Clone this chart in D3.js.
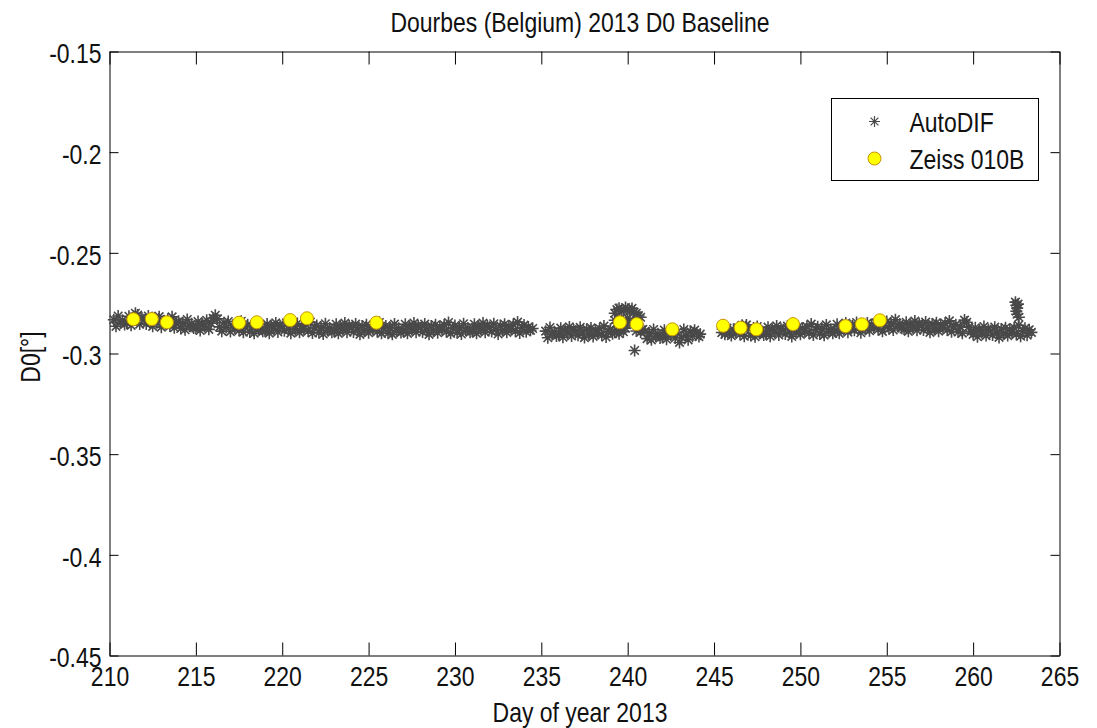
<!DOCTYPE html>
<html>
<head>
  <meta charset="utf-8">
  <title>Dourbes (Belgium) 2013 D0 Baseline</title>
  <style>
    body { margin: 0; background: white; }
    svg text { font-family: "Liberation Sans", Arial, sans-serif; fill: #111; }
    .axis text { font-size: 28px; }
    .axis path, .axis line { stroke: #000; stroke-width: 1; }
  </style>
  <script src="https://d3js.org/d3.v7.min.js"></script>
</head>
<body>
  <div id="chart"></div>
  <script>
    // AutoDIF absolute measurements (day of year, D0 in degrees)
    const autoDays = [
      210.25,210.375,210.5,210.625,210.75,210.875,
      211,211.125,211.25,211.375,211.5,211.625,211.75,211.875,
      212,212.125,212.25,212.375,212.5,212.625,212.75,212.875,
      213,213.125,213.25,213.375,213.5,213.625,213.75,213.875,
      214,214.125,214.25,214.375,214.5,214.625,214.75,214.875,
      215,215.125,215.25,215.375,215.5,215.625,215.75,215.875,
      216,216.125,216.25,216.375,216.5,216.625,216.75,216.875,
      217,217.125,217.25,217.375,217.5,217.625,217.75,217.875,
      218,218.125,218.25,218.375,218.5,218.625,218.75,218.875,
      219,219.125,219.25,219.375,219.5,219.625,219.75,219.875,
      220,220.125,220.25,220.375,220.5,220.625,220.75,220.875,
      221,221.125,221.25,221.375,221.5,221.625,221.75,221.875,
      222,222.125,222.25,222.375,222.5,222.625,222.75,222.875,
      223,223.125,223.25,223.375,223.5,223.625,223.75,223.875,
      224,224.125,224.25,224.375,224.5,224.625,224.75,224.875,
      225,225.125,225.25,225.375,225.5,225.625,225.75,225.875,
      226,226.125,226.25,226.375,226.5,226.625,226.75,226.875,
      227,227.125,227.25,227.375,227.5,227.625,227.75,227.875,
      228,228.125,228.25,228.375,228.5,228.625,228.75,228.875,
      229,229.125,229.25,229.375,229.5,229.625,229.75,229.875,
      230,230.125,230.25,230.375,230.5,230.625,230.75,230.875,
      231,231.125,231.25,231.375,231.5,231.625,231.75,231.875,
      232,232.125,232.25,232.375,232.5,232.625,232.75,232.875,
      233,233.125,233.25,233.375,233.5,233.625,233.75,233.875,
      234,234.125,234.25,234.375,234.5,
      235.25,235.375,235.5,235.625,235.75,235.875,
      236,236.125,236.25,236.375,236.5,236.625,236.75,236.875,
      237,237.125,237.25,237.375,237.5,237.625,237.75,237.875,
      238,238.125,238.25,238.375,238.5,238.625,238.75,238.875,
      239,239.125,
      239.25,239.375,239.5,239.625,239.75,239.875,
      239.25,239.375,239.5,239.625,239.75,239.875,
      239.25,239.375,239.5,239.625,239.75,239.875,
      240,240.125,240.25,240.375,240.5,240.625,240.75,
      240,240.125,240.5,240.625,240.75,240.875,
      240.4,
      241,241.125,241.25,241.375,241.5,241.625,241.75,241.875,
      242,242.125,242.25,242.375,242.5,242.625,242.75,242.875,
      243,243.125,243.25,243.375,243.5,243.625,243.75,243.875,
      244,244.125,244.2,
      245.45,245.5,245.625,245.75,245.875,
      246,246.125,246.25,246.375,246.5,246.625,246.75,246.875,
      247,247.125,247.25,247.375,247.5,247.625,247.75,247.875,
      248,248.125,248.25,248.375,248.5,248.625,248.75,248.875,
      249,249.125,249.25,249.375,249.5,249.625,249.75,249.875,
      250,250.125,250.25,250.375,250.5,250.625,250.75,250.875,
      251,251.125,251.25,251.375,251.5,251.625,251.75,251.875,
      252,252.125,252.25,252.375,252.5,252.625,252.75,252.875,
      253,253.125,253.25,253.375,253.5,253.625,253.75,253.875,
      254,254.125,254.25,254.375,254.5,254.625,254.75,254.875,
      255,255.125,255.25,255.375,255.5,255.625,255.75,255.875,
      256,256.125,256.25,256.375,256.5,256.625,256.75,256.875,
      257,257.125,257.25,257.375,257.5,257.625,257.75,257.875,
      258,258.125,258.25,258.375,258.5,258.625,258.75,258.875,
      259,259.125,259.25,259.375,259.5,259.625,259.75,259.875,
      260,260.125,260.25,260.375,260.5,260.625,260.75,260.875,
      261,261.125,261.25,261.375,261.5,261.625,261.75,261.875,
      262,262.125,262.25,262.375,262.5,262.625,262.75,262.875,
      263,263.125,263.25,263.375,
      262.45,262.5,262.55,262.6,262.5,262.55,262.65
    ];
    const autoD0 = [
      -0.2832,-0.2865,-0.2814,-0.2847,-0.2835,-0.2856,
      -0.2848,-0.2815,-0.2860,-0.2827,-0.2800,-0.2809,-0.2854,-0.2824,
      -0.2832,-0.2853,-0.2814,-0.2844,-0.2865,-0.2823,-0.2847,-0.2817,
      -0.2869,-0.2839,-0.2851,-0.2830,-0.2863,-0.2818,-0.2872,-0.2845,
      -0.2840,-0.2876,-0.2849,-0.2882,-0.2831,-0.2864,-0.2852,-0.2873,
      -0.2874,-0.2841,-0.2886,-0.2853,-0.2865,-0.2835,-0.2880,-0.2850,
      -0.2825,-0.2810,-0.2828,-0.2868,-0.2889,-0.2847,-0.2871,-0.2841,
      -0.2891,-0.2861,-0.2873,-0.2852,-0.2885,-0.2840,-0.2894,-0.2867,
      -0.2857,-0.2893,-0.2866,-0.2899,-0.2848,-0.2881,-0.2869,-0.2890,
      -0.2887,-0.2854,-0.2899,-0.2866,-0.2878,-0.2848,-0.2893,-0.2863,
      -0.2866,-0.2887,-0.2848,-0.2878,-0.2899,-0.2857,-0.2881,-0.2851,
      -0.2895,-0.2865,-0.2877,-0.2856,-0.2889,-0.2844,-0.2898,-0.2871,
      -0.2861,-0.2897,-0.2870,-0.2903,-0.2852,-0.2885,-0.2873,-0.2894,
      -0.2888,-0.2855,-0.2900,-0.2867,-0.2879,-0.2849,-0.2894,-0.2864,
      -0.2872,-0.2893,-0.2854,-0.2884,-0.2905,-0.2863,-0.2887,-0.2857,
      -0.2897,-0.2867,-0.2879,-0.2858,-0.2891,-0.2846,-0.2900,-0.2873,
      -0.2863,-0.2899,-0.2872,-0.2905,-0.2854,-0.2887,-0.2875,-0.2896,
      -0.2888,-0.2855,-0.2900,-0.2867,-0.2879,-0.2849,-0.2894,-0.2864,
      -0.2872,-0.2893,-0.2854,-0.2884,-0.2905,-0.2863,-0.2887,-0.2857,
      -0.2897,-0.2867,-0.2879,-0.2858,-0.2891,-0.2846,-0.2900,-0.2873,
      -0.2861,-0.2897,-0.2870,-0.2903,-0.2852,-0.2885,-0.2873,-0.2894,
      -0.2888,-0.2855,-0.2900,-0.2867,-0.2879,-0.2849,-0.2894,-0.2864,
      -0.2870,-0.2891,-0.2852,-0.2882,-0.2903,-0.2861,-0.2885,-0.2855,
      -0.2895,-0.2865,-0.2877,-0.2856,-0.2889,-0.2844,-0.2898,-0.2871,
      -0.2859,-0.2892,-0.2868,-0.2885,-0.2876,
      -0.2889,-0.2922,-0.2871,-0.2904,-0.2892,-0.2913,
      -0.2907,-0.2874,-0.2919,-0.2886,-0.2898,-0.2868,-0.2913,-0.2883,
      -0.2888,-0.2909,-0.2870,-0.2900,-0.2921,-0.2879,-0.2903,-0.2873,
      -0.2915,-0.2885,-0.2897,-0.2876,-0.2909,-0.2864,-0.2918,-0.2891,
      -0.2880,-0.2902,
      -0.2800,-0.2782,-0.2775,-0.2790,-0.2786,-0.2772,
      -0.2835,-0.2850,-0.2830,-0.2845,-0.2840,-0.2855,
      -0.2895,-0.2884,-0.2902,-0.2880,-0.2892,-0.2874,
      -0.2780,-0.2790,-0.2776,-0.2795,-0.2800,-0.2812,-0.2820,
      -0.2825,-0.2840,-0.2888,-0.2876,-0.2894,-0.2880,
      -0.2985,
      -0.2890,-0.2926,-0.2899,-0.2932,-0.2881,-0.2914,-0.2902,-0.2923,
      -0.2917,-0.2884,-0.2929,-0.2896,-0.2908,-0.2878,-0.2923,-0.2893,
      -0.2945,-0.2920,-0.2881,-0.2911,-0.2932,-0.2890,-0.2914,-0.2884,
      -0.2898,-0.2916,-0.2904,
      -0.2896,-0.2878,-0.2905,-0.2874,-0.2899,
      -0.2911,-0.2881,-0.2893,-0.2872,-0.2905,-0.2860,-0.2914,-0.2858,
      -0.2875,-0.2911,-0.2884,-0.2917,-0.2866,-0.2899,-0.2887,-0.2908,
      -0.2902,-0.2869,-0.2914,-0.2881,-0.2893,-0.2863,-0.2908,-0.2878,
      -0.2882,-0.2903,-0.2864,-0.2894,-0.2915,-0.2873,-0.2897,-0.2867,
      -0.2905,-0.2875,-0.2887,-0.2866,-0.2899,-0.2854,-0.2908,-0.2881,
      -0.2867,-0.2903,-0.2876,-0.2909,-0.2858,-0.2891,-0.2879,-0.2900,
      -0.2888,-0.2855,-0.2900,-0.2867,-0.2879,-0.2849,-0.2894,-0.2864,
      -0.2864,-0.2885,-0.2846,-0.2876,-0.2897,-0.2855,-0.2879,-0.2849,
      -0.2887,-0.2857,-0.2869,-0.2848,-0.2881,-0.2836,-0.2890,-0.2863,
      -0.2841,-0.2877,-0.2850,-0.2883,-0.2832,-0.2865,-0.2853,-0.2874,
      -0.2878,-0.2845,-0.2890,-0.2857,-0.2869,-0.2839,-0.2884,-0.2854,
      -0.2862,-0.2883,-0.2844,-0.2874,-0.2895,-0.2853,-0.2877,-0.2847,
      -0.2889,-0.2859,-0.2871,-0.2850,-0.2883,-0.2838,-0.2892,-0.2865,
      -0.2857,-0.2893,-0.2866,-0.2899,-0.2834,-0.2845,-0.2869,-0.2890,
      -0.2905,-0.2872,-0.2917,-0.2884,-0.2896,-0.2866,-0.2911,-0.2881,
      -0.2887,-0.2908,-0.2869,-0.2899,-0.2920,-0.2878,-0.2902,-0.2872,
      -0.2911,-0.2881,-0.2893,-0.2872,-0.2905,-0.2860,-0.2914,-0.2887,
      -0.2875,-0.2909,-0.2882,-0.2895,
      -0.2745,-0.2760,-0.2775,-0.2755,-0.2790,-0.2805,-0.2820
    ];

    // Zeiss 010B theodolite measurements
    const zeissDays = [211.38,212.45,213.32,217.5,218.53,220.46,221.43,225.45,239.55,240.52,242.58,245.52,246.54,247.45,249.57,252.61,253.56,254.6];
    const zeissD0 = [-0.2830,-0.2829,-0.2845,-0.2847,-0.2845,-0.2834,-0.2825,-0.2847,-0.2845,-0.2854,-0.2880,-0.2862,-0.2872,-0.2880,-0.2854,-0.2864,-0.2855,-0.2835];

    const xTicks = [210,215,220,225,230,235,240,245,250,255,260,265];
    const yTicks = [-0.45,-0.4,-0.35,-0.3,-0.25,-0.2,-0.15];
    const yTickLabels = ["-0.45","-0.4","-0.35","-0.3","-0.25","-0.2","-0.15"];

    const width = 1097, height = 728;
    const margin = {top: 51.5, right: 37.5, bottom: 72.5, left: 109.5};

    const svg = d3.select("#chart").append("svg")
      .attr("width", width)
      .attr("height", height);

    const x = d3.scaleLinear().domain([210, 265]).range([margin.left, width - margin.right]);
    const y = d3.scaleLinear().domain([-0.45, -0.15]).range([height - margin.bottom, margin.top]);

    // Axes with inward ticks on all four sides
    svg.append("g")
      .attr("class", "axis")
      .attr("transform", `translate(0,${y(-0.45)})`)
      .call(d3.axisBottom(x).tickValues(xTicks).tickFormat(d3.format("d")).tickSizeInner(-13).tickSizeOuter(0).tickPadding(11));

    svg.append("g")
      .attr("class", "axis")
      .attr("transform", `translate(0,${y(-0.15)})`)
      .call(d3.axisTop(x).tickValues(xTicks).tickFormat("").tickSizeInner(-13).tickSizeOuter(0));

    svg.append("g")
      .attr("class", "axis")
      .attr("transform", `translate(${x(210)},0)`)
      .call(d3.axisLeft(y).tickValues(yTicks).tickFormat((d, i) => yTickLabels[i]).tickSizeInner(-9).tickSizeOuter(0).tickPadding(8))
      .selectAll("text").attr("dy", "0.4em");

    svg.append("g")
      .attr("class", "axis")
      .attr("transform", `translate(${x(265)},0)`)
      .call(d3.axisRight(y).tickValues(yTicks).tickFormat("").tickSizeInner(-9).tickSizeOuter(0));

    // Asterisk marker like MATLAB '*'
    const asterisk = (s) => {
      const d = s * 0.71;
      return `M${-s},0H${s}M0,${-s}V${s}M${-d},${-d}L${d},${d}M${-d},${d}L${d},${-d}`;
    };

    const autoData = autoDays.map((t, i) => ({day: t, d0: autoD0[i]}));
    const zeissData = zeissDays.map((t, i) => ({day: t, d0: zeissD0[i]}));

    svg.append("g")
      .selectAll("path")
      .data(autoData)
      .enter()
      .append("path")
      .attr("transform", p => `translate(${x(p.day)},${y(p.d0)})`)
      .attr("d", asterisk(6))
      .attr("fill", "none")
      .attr("stroke", "#494949")
      .attr("stroke-width", 1.6);

    svg.append("g")
      .selectAll("circle")
      .data(zeissData)
      .enter()
      .append("circle")
      .attr("cx", p => x(p.day))
      .attr("cy", p => y(p.d0))
      .attr("r", 6.5)
      .attr("fill", "#ffff00")
      .attr("stroke", "#c89400")
      .attr("stroke-width", 1);

    // Title and axis labels
    svg.append("text")
      .attr("x", 580)
      .attr("y", 32)
      .attr("text-anchor", "middle")
      .style("font-size", "28px")
      .text("Dourbes (Belgium) 2013 D0 Baseline");

    svg.append("text")
      .attr("x", 580)
      .attr("y", 722)
      .attr("text-anchor", "middle")
      .style("font-size", "28px")
      .text("Day of year 2013");

    svg.append("text")
      .attr("transform", "rotate(-90)")
      .attr("x", -357)
      .attr("y", 40)
      .attr("text-anchor", "middle")
      .style("font-size", "28px")
      .text("D0[°]");

    // Legend
    const legend = svg.append("g").attr("transform", "translate(831.5,98.5)");
    legend.append("rect")
      .attr("width", 207)
      .attr("height", 82)
      .attr("fill", "white")
      .attr("stroke", "#000")
      .attr("stroke-width", 1);
    legend.append("path")
      .attr("transform", "translate(43,23)")
      .attr("d", asterisk(5.5))
      .attr("fill", "none")
      .attr("stroke", "#4a4a4a")
      .attr("stroke-width", 1.2);
    legend.append("circle")
      .attr("cx", 43)
      .attr("cy", 60)
      .attr("r", 6.5)
      .attr("fill", "#ffff00")
      .attr("stroke", "#c89400");
    legend.append("text")
      .attr("x", 78)
      .attr("y", 33)
      .style("font-size", "28px")
      .text("AutoDIF");
    legend.append("text")
      .attr("x", 78)
      .attr("y", 70)
      .style("font-size", "28px")
      .text("Zeiss 010B");

    // The original figure uses a condensed face: squeeze every label horizontally
    svg.selectAll("text").each(function() {
      const w = this.getComputedTextLength();
      d3.select(this).attr("textLength", w * 0.82).attr("lengthAdjust", "spacingAndGlyphs");
    });
  </script>
</body>
</html>
